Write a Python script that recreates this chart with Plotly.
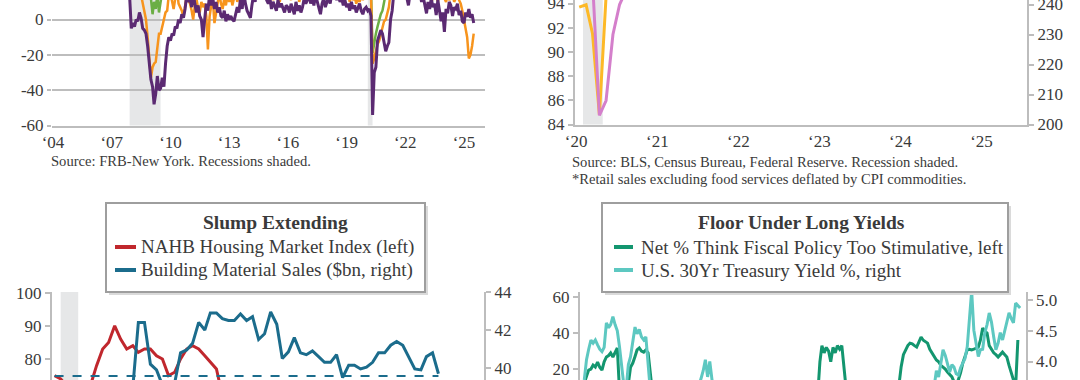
import pandas as pd
import plotly.graph_objects as go

W, H = 1080, 380
FONT = "Liberation Serif"
TXT = "#3a3a3a"
GRAY = "#BDBDBD"
SHADE = "#E6E7E8"

# ---------------- Panel 1 (top-left): monthly, Jan 2004 - Jul 2025 ----------------
tl_start = "2004-01-01"
purple = [
    25, 30, 28, 22, 27, 20, 24, 18, 22, 25, 19, 21,
    18, 15, 20, 14, 13, 17, 22, 18, 16, 20, 22, 19,
    21, 23, 19, 24, 18, 16, 14, 17, 15, 18, 21, 17,
    16, 19, 15, 18, 20, 22, 17, 19, 16, 18, 14, 13,
    -5, -2, -4, 0, -1, 4, 1, -5, -6, -8, -15, -27,
    -34, -38, -48, -42, -32, -40, -39, -33, -38, -25, -15, -10,
    -12, -8, -9, -4, -5, 0, -2, 3, 1, 6, 14, 10,
    12, 7, 15, 9, 4, 8, 2, 0, -10, 0, 9, 5,
    14, 8, 12, 6, 10, 4, 7, 2, 1, 5, -1, 3,
    0, 2, 0, -1, 3, 7, 4, 12, 6, 15, 9, 5,
    3, 1, 8, 14, 10, 18, 12, 15, 20, 13, 17, 11,
    9, 12, 6, 10, 8, 5, 11, 7, 9, 6, 4, 8,
    7, 4, 9, 6, 3, 10, 5, 8, 4, 7, 12, 9,
    11, 15, 9, 13, 8, 14, 10, 6, 3, 9, 12, 7,
    10, 13, 9, 15, 12, 16, 11, 14, 10, 12, 8, 11,
    7, 9, 5, 10, 6, 8, 4, 7, 9, 5, 3, 6,
    7, 5, 6, 2, -54, -30, -27, -12, -9, -6, -8, -12,
    -18, -15, -13, 0, 5, 15, 22, 28, 25, 30, 27, 24,
    20, 12, 8, 15, 18, 14, 20, 16, 12, 15, 10, 13,
    8, 3.5, 10, 6, 12, 7, 9, 2.5, 11, 5, -1, 4,
    -7, 6, 3.5, 10, 8, 2, 7, 6, 9, 2.5, 5, -1,
    -2, 4, 1.5, 6, 1, 3, -2,
]
orange = [
    28, 32, 25, 30, 27, 33, 24, 29, 26, 31, 28, 25,
    22, 26, 20, 24, 19, 23, 27, 21, 25, 28, 24, 22,
    26, 29, 24, 27, 22, 25, 20, 23, 21, 25, 27, 23,
    21, 24, 19, 23, 26, 28, 22, 25, 20, 23, 18, 17,
    18, 14, 16, 12, 15, 13, 14, 9, 5, 0, -10, -23,
    -33, -27, -25, -24, -15, -8, -8, -4, -1, 4, 5, 14,
    15, 10, 6, 12, 18, 9, 7, 5, 1.5, 8, 14, 11,
    9, 5, 0, 8, 12, 6, 4, 10, 7, 9, 2, -17,
    1.5, 8, 12, -2, 5, 10, 15, 9, 6, 12, 8, 14,
    10, 14, 8, 12, 16, 10, 13, 18, 12, 15, 20, 14,
    15, 18, 12, 16, 20, 14, 17, 22, 16, 19, 13, 15,
    14, 12, 17, 11, 15, 13, 18, 10, 14, 16, 12, 15,
    13, 15, 11, 17, 14, 12, 16, 10, 14, 13, 17, 15,
    18, 21, 16, 19, 15, 20, 17, 14, 19, 16, 18, 20,
    17, 22, 18, 20, 16, 21, 18, 15, 19, 17, 14, 16,
    12, 14, 10, 15, 11, 13, 9, 12, 10, 14, 11, 13,
    14, 12, 15, 14, -25, -22, -17, -14, -12, -8, -4, -1,
    0, 4, 7, 15, 20, 25, 22, 28, 24, 26, 30, 27,
    25, 22, 18, 24, 20, 17, 21, 15, 18, 14, 16, 12,
    15, 13, 17, 12, 14, 11, 16, 13, 10, 15, 12, 14,
    12, 10, 14, 11, 13, 15, 10, 12, 14, 11, 9, 5,
    0, -6, -10, -22, -20, -15, -8,
]
green = [
    30, 27, 33, 29, 31, 26, 28, 32, 27, 30, 29, 26,
    25, 28, 24, 27, 23, 26, 29, 25, 27, 30, 26, 24,
    27, 30, 25, 28, 24, 26, 22, 25, 23, 26, 28, 24,
    23, 26, 22, 25, 27, 29, 24, 26, 22, 24, 20, 19,
    22, 18, 20, 16, 19, 17, 18, 15, 16, 14, 13, 12,
    12, 3, 10, 6, 14, 4, 12, 16, 18, 20, 19, 22,
    24, 21, 25, 22, 26, 23, 20, 22, 24, 21, 25, 23,
    22, 25, 21, 24, 20, 23, 19, 22, 18, 21, 24, 22,
    20, 23, 19, 22, 25, 21, 24, 20, 22, 19, 23, 21,
    22, 19, 23, 20, 24, 21, 25, 22, 26, 23, 20, 24,
    25, 22, 26, 23, 27, 24, 21, 25, 22, 26, 23, 24,
    22, 20, 24, 21, 23, 19, 22, 20, 24, 21, 18, 22,
    20, 23, 19, 22, 18, 21, 24, 20, 23, 19, 22, 25,
    26, 28, 24, 27, 23, 26, 29, 25, 28, 24, 27, 29,
    27, 30, 26, 28, 25, 29, 26, 24, 27, 25, 22, 24,
    21, 23, 19, 22, 20, 24, 21, 23, 19, 22, 20, 21,
    20, 18, 22, 16, -19, -13, -8, -4, 0, 3, 5, 12,
    16, 20, 24, 27, 30, 28, 26, 29, 25, 27, 24, 22,
    24, 21, 25, 22, 26, 23, 20, 24, 21, 23, 19, 22,
    21, 24, 20, 23, 19, 22, 25, 21, 24, 20, 22, 19,
    20, 23, 19, 22, 18, 21, 24, 20, 22, 19, 21, 18,
    19, 17, 20, 18, 21, 19, 17,
]
tl_ticks = ["2004", "2007", "2010", "2013", "2016", "2019", "2022", "2025"]
tl_ticklabels = ["\u201804", "\u201807", "\u201810", "\u201813", "\u201816", "\u201819", "\u201822", "\u201825"]
tl_recessions = [("2007-12-01", "2009-06-30"), ("2020-02-01", "2020-04-30")]

# ---------------- Panel 2 (top-right): monthly from Jan 2020 ----------------
yellow = [
    93.7, 93.9, 91.5, 84.8, 94.6, 97.5, 98.6, 99.2, 99.8, 100.1, 99.7, 99.4,
    101.8, 100.2, 104.5, 104.0, 103.2, 103.5, 102.6, 102.9, 103.1, 103.6, 103.0, 102.4,
    102.8, 102.2, 102.5, 102.0, 101.6, 101.2, 101.5, 101.4, 101.0, 101.3, 100.9, 100.5,
    102.0, 101.6, 101.3, 101.8, 101.5, 101.7, 102.1, 101.9, 101.6, 101.8, 101.3, 101.0,
    100.7, 101.2, 101.8, 101.5, 101.9, 102.3, 102.0, 102.4, 102.6, 103.0, 103.4, 103.1,
    103.6, 102.9, 103.5, 103.3, 103.1, 103.6, 103.4,
]
pink = [
    250, 252, 248, 203, 208, 230, 240, 245, 247, 249, 248, 247,
    256, 252, 263, 262, 260, 261, 258, 259, 260, 262, 261, 259,
    260, 258, 259, 257, 256, 255, 256, 256, 254, 255, 254, 253,
    256, 255, 254, 255, 254, 255, 256, 255, 254, 255, 254, 253,
    252, 254, 255, 254, 255, 256, 255, 256, 257, 258, 259, 258,
    260, 257, 259, 258, 257, 259, 258,
]
tr_ticks = ["2020", "2021", "2022", "2023", "2024", "2025"]
tr_ticklabels = ["\u201820", "\u201821", "\u201822", "\u201823", "\u201824", "\u201825"]
tr_recessions = [("2020-02-01", "2020-04-30")]

# ---------------- Panel 3 (bottom-left): Slump Extending, monthly from Jan 2020 ----------------
bl_start = "2020-01-01"
nahb = [
    75, 74, 72, 30, 37, 58, 72, 78, 83, 85, 90, 86,
    83, 84, 82, 83, 83, 81, 80, 75, 76, 80, 83, 84,
    83, 81, 79, 77, 69, 67, 55, 49, 46, 38, 33, 31,
    35, 42, 44, 45, 50, 55, 56, 50, 45, 40, 34, 37,
    44, 48, 51, 51, 45, 43, 41, 39, 41, 43, 46, 46,
    47, 42, 39, 40, 34,
]
building = [
    36.5, 36.8, 36.0, 34.5, 37.5, 38.8, 38.5, 38.3, 38.5, 38.9, 38.7, 39.0,
    38.9, 39.0, 42.4, 42.4, 40.2, 39.9, 39.1, 38.8, 39.2, 40.8, 40.95, 41.3,
    42.4, 42.0, 42.9, 42.9, 42.6, 42.5, 42.5, 42.85, 42.5, 42.7, 41.5, 41.8,
    42.95, 42.3, 40.5, 40.85, 41.6, 40.8, 40.7, 40.9, 40.6, 40.3, 40.3, 40.7,
    39.5, 40.15, 40.15, 39.95, 40.05, 40.3, 40.8, 40.8, 41.2, 41.4, 41.2, 40.6,
    39.95, 39.9, 40.6, 40.8, 39.7,
]
building_ref = 39.58
bl_recessions = [("2020-02-01", "2020-04-30")]

# ---------------- Panel 4 (bottom-right): Floor Under Long Yields, monthly from Jan 2009 ----------------
br_start = "2009-01-01"
fiscal = [
    5, 8, 12, 16, 19.4, 20, 22.2, 21.1, 23.9, 21, 19.4, 24,
    26.7, 27.5, 28.9, 26.7, 29, 31.7, 8, 5, 2, 6, 12, 21,
    23.3, 27, 30.6, 31.7, 30, 29.4, 30.6, 29, 6, 0, -5, -8,
    -10, -6, -12, -9, -14, -11, -8, -13, -10, -7, -12, -9,
    -5, -8, -3, -6, -10, -4, -7, -2, -5, -9, -6, -3,
    -1, -4, 2, -2, 1, -3, 3, 0, -4, 2, -1, 3,
    5, 2, 6, 1, 4, 7, 3, 5, 0, 4, 8, 2,
    6, 3, 7, 4, 9, 5, 2, 6, 3, 8, 10, 4,
    7, 10, 6, 9, 11, 8, 5, 9, 7, 10, 12, 6,
    5, 24, 33, 29, 32, 30, 24, 32, 29, 33, 31, 33,
    10, 2, -3, 1, -5, -2, -8, -4, -10, -6, -9, -12,
    -20, -25, -35, -40, -38, -30, -28, -25, -22, -18, -15, -10,
    5, 12, 21.3, 28, 30.6, 33, 34.4, 34, 33, 32.2, 35, 37.8,
    36, 35, 34.4, 31, 28.9, 27, 25, 24, 22, 21.1, 20, 18.3,
    17, 15.6, 13, 12, 14, 18, 23.3, 27, 30.6, 31, 30.6, 31,
    31.5, 32.2, 36, 42.8, 41, 40, 33, 30.6, 29, 28, 26.7, 28,
    29.4, 28, 26.7, 22, 18, 12, 10, 36.1,
]
yield30 = [
    3.0, 3.5, 3.7, 4.03, 4.2, 4.35, 4.3, 4.35, 4.27, 4.2, 4.16, 4.23,
    4.63, 4.55, 4.6, 4.73, 4.6, 4.5, 4.24, 3.9, 3.6, 3.55, 3.95, 4.08,
    4.3, 4.56, 4.45, 4.52, 4.4, 4.35, 4.4, 3.9, 3.2, 3.1, 3.15, 2.95,
    3.1, 3.1, 3.35, 3.1, 2.85, 2.7, 2.6, 2.7, 2.85, 2.9, 2.8, 2.95,
    3.15, 3.2, 3.2, 2.95, 3.3, 3.5, 3.6, 3.72, 3.85, 4.03, 3.75, 4.0,
    3.7, 3.6, 3.55, 3.45, 3.35, 3.4, 3.3, 3.1, 3.2, 3.05, 3.0, 2.75,
    2.3, 2.6, 2.55, 2.75, 3.1, 3.1, 2.9, 2.95, 2.85, 2.9, 3.0, 3.0,
    2.75, 2.6, 2.7, 2.7, 2.65, 2.3, 2.2, 2.25, 2.3, 2.6, 3.0, 3.05,
    3.05, 3.0, 3.0, 2.95, 2.85, 2.85, 2.9, 2.75, 2.85, 2.9, 2.85, 2.75,
    2.95, 3.15, 3.0, 3.1, 3.05, 3.0, 3.0, 3.0, 3.2, 3.4, 3.3, 3.0,
    3.0, 3.05, 2.8, 2.95, 2.6, 2.5, 2.55, 1.95, 2.1, 2.2, 2.3, 2.4,
    2.0, 1.7, 1.35, 1.25, 1.4, 1.4, 1.2, 1.5, 1.45, 1.65, 1.6, 1.65,
    1.9, 2.15, 2.4, 2.3, 2.3, 2.05, 1.9, 1.95, 2.1, 1.95, 1.8, 1.9,
    2.1, 2.2, 2.45, 3.0, 3.1, 3.6, 3.85, 3.75, 4.0, 4.19, 4.1, 3.98,
    3.83, 3.95, 3.91, 3.8, 3.78, 3.9, 3.98, 4.05, 4.24, 4.7, 5.15, 4.51,
    4.3, 4.08, 4.19, 4.2, 4.47, 4.6, 4.79, 4.64, 4.4, 4.19, 4.3, 4.47,
    4.35, 4.5, 4.68, 4.79, 4.7, 4.63, 4.95, 4.9, 4.87,
]

# ---------------- build ----------------
tl_dates = pd.date_range(tl_start, periods=len(purple), freq="MS")
tr_dates = pd.date_range("2020-01-01", periods=len(yellow), freq="MS") + pd.Timedelta(days=14)
bl_dates = pd.date_range(bl_start, periods=len(nahb), freq="MS")
br_dates_y = pd.date_range(br_start, periods=len(yield30), freq="MS")
br_dates_f = pd.date_range(br_start, periods=len(fiscal), freq="MS")

C_PURPLE, C_ORANGE, C_GREEN = "#5B2A72", "#F7941D", "#6BAE45"
C_YELLOW, C_PINK = "#FDB927", "#D47FCB"
C_RED, C_BLUE = "#C0272D", "#1B6C8C"
C_DKGREEN, C_TEAL = "#13966F", "#5DC8C1"

fig = go.Figure()


def line(x, y, xa, ya, color, width=3, dash="solid"):
    fig.add_trace(go.Scatter(x=x, y=y, xaxis=xa, yaxis=ya, mode="lines",
                             line=dict(color=color, width=width, dash=dash),
                             showlegend=False, hoverinfo="skip"))


line(tl_dates, green, "x", "y", C_GREEN, 2.5)
line(tl_dates, orange, "x", "y", C_ORANGE, 2.5)
line(tl_dates, purple, "x", "y", C_PURPLE, 3)

line(tr_dates, yellow, "x2", "y2", C_YELLOW, 3)
line(tr_dates, pink, "x2", "y3", C_PINK, 3)

line([bl_dates[0], bl_dates[len(building) - 1]], [building_ref, building_ref], "x3", "y5", C_BLUE, 2, "dash")
line(bl_dates, nahb, "x3", "y4", C_RED, 3)
line(bl_dates, building, "x3", "y5", C_BLUE, 3)

line(br_dates_y, yield30, "x4", "y7", C_TEAL, 3)
line(br_dates_f, fiscal, "x4", "y6", C_DKGREEN, 3)

tickfont = dict(family=FONT, size=17, color=TXT)
common_y = dict(showgrid=False, zeroline=False, ticks="outside", ticklen=5, tickwidth=2,
                tickcolor=GRAY, tickfont=tickfont, showline=True, linecolor=GRAY, linewidth=2,
                automargin=False, ticklabeloverflow="allow")

fig.update_layout(
    width=W, height=H, margin=dict(l=0, r=0, t=0, b=0, autoexpand=False),
    paper_bgcolor="white", plot_bgcolor="rgba(0,0,0,0)", showlegend=False,
    font=dict(family=FONT, color=TXT),
    xaxis=dict(domain=[52 / W, 485 / W], anchor="y", type="date",
               range=["2003-12-13", "2026-01-28"],
               tickvals=[pd.Timestamp(t + "-01-01") for t in tl_ticks], ticktext=tl_ticklabels,
               showline=True, linecolor=GRAY, linewidth=2, ticks="", showgrid=False,
               zeroline=False, automargin=False, tickfont=dict(family=FONT, size=17, color=TXT)),
    yaxis=dict(domain=[1 - 125.5 / H, 1], anchor="x", range=[-60, 11.06],
               tickvals=[-60, -40, -20, 0], ticktext=["-60", "-40", "-20", "0"],
               showgrid=True, gridcolor=GRAY, gridwidth=2, zeroline=False,
               ticks="outside", ticklen=4, tickwidth=2, tickcolor=GRAY,
               showline=False, automargin=False, tickfont=tickfont),
    xaxis2=dict(domain=[575 / W, 1027 / W], anchor="y2", type="date",
                range=["2019-12-27", "2025-07-25"],
                tickvals=[pd.Timestamp(t + "-01-01") for t in tr_ticks], ticktext=tr_ticklabels,
                showline=True, linecolor=GRAY, linewidth=2, ticks="", showgrid=False,
                zeroline=False, automargin=False, tickfont=dict(family=FONT, size=17, color=TXT)),
    yaxis2=dict(domain=[1 - 124.5 / H, 1], anchor="x2", range=[84, 94.29],
                tickvals=[84, 86, 88, 90, 92, 94], **common_y),
    yaxis3=dict(overlaying="y2", side="right", anchor="x2", range=[200, 241.5],
                tickvals=[200, 210, 220, 230, 240], **common_y),
    xaxis3=dict(domain=[52 / W, 484 / W], anchor="y4", type="date",
                range=["2019-12-19", "2025-12-18"], visible=False, automargin=False),
    yaxis4=dict(domain=[0, 1 - 292 / H], anchor="x3", range=[73.67, 100.2],
                tickvals=[80, 90, 100], **common_y),
    yaxis5=dict(overlaying="y4", side="right", anchor="x3", range=[39.37, 44.0],
                tickvals=[40, 42, 44], **common_y),
    xaxis4=dict(domain=[580 / W, 1025.6 / W], anchor="y6", type="date",
                range=["2009-01-01", "2025-11-16"], visible=False, automargin=False),
    yaxis6=dict(domain=[0, 1 - 292 / H], anchor="x4", range=[13.9, 62.8],
                tickvals=[20, 40, 60], **common_y),
    yaxis7=dict(overlaying="y6", side="right", anchor="x4", range=[3.70, 5.13],
                tickvals=[4.0, 4.5, 5.0], ticktext=["4.0", "4.5", "5.0"], **common_y),
)

shapes = []
for a, b in tl_recessions:
    shapes.append(dict(type="rect", xref="x", yref="y domain", x0=a, x1=b, y0=0, y1=1,
                       fillcolor=SHADE, line=dict(width=0), layer="below"))
for a, b in tr_recessions:
    shapes.append(dict(type="rect", xref="x2", yref="y2 domain", x0=a, x1=b, y0=0, y1=1,
                       fillcolor=SHADE, line=dict(width=0), layer="below"))
for a, b in bl_recessions:
    shapes.append(dict(type="rect", xref="x3", yref="y4 domain", x0=a, x1=b, y0=0, y1=1,
                       fillcolor=SHADE, line=dict(width=0), layer="below"))


def px(x, y):
    return x / W, 1 - y / H


annotations = []


def text(x, y, s, size=14, anchor="left", bold=False, yanchor="middle"):
    xx, yy = px(x, y)
    annotations.append(dict(x=xx, y=yy, xref="paper", yref="paper", text=("<b>%s</b>" % s) if bold else s,
                            showarrow=False, xanchor=anchor, yanchor=yanchor,
                            font=dict(family=FONT, size=size, color=TXT)))


# source notes
text(49, 161, "Source: FRB-New York. Recessions shaded.", 14.6)
text(570, 162, "Source: BLS, Census Bureau, Federal Reserve. Recession shaded.", 14.6)
text(570, 179, "*Retail sales excluding food services deflated by CPI commodities.", 14.6)


def legend_box(x0, y0, x1, y1, title, entries, tx, sym_x0, sym_x1, text_x):
    a0, b1 = px(x0 + 3, y0 + 3)
    a1, b0 = px(x1 + 3, y1 + 3)
    shapes.append(dict(type="rect", xref="paper", yref="paper", x0=a0, x1=a1, y0=b0, y1=b1,
                       line=dict(width=0), fillcolor="#DADADA"))
    a0, b1 = px(x0, y0)
    a1, b0 = px(x1, y1)
    shapes.append(dict(type="rect", xref="paper", yref="paper", x0=a0, x1=a1, y0=b0, y1=b1,
                       line=dict(color="#9E9E9E", width=2), fillcolor="white"))
    text(tx, 222, title, 19.5, anchor="center", bold=True)
    for (label, color), yy in zip(entries, [247, 270]):
        s0, t = px(sym_x0, yy)
        s1, _ = px(sym_x1, yy)
        shapes.append(dict(type="line", xref="paper", yref="paper", x0=s0, x1=s1, y0=t, y1=t,
                           line=dict(color=color, width=4)))
        text(text_x, yy, label, 19)


legend_box(106, 203, 425, 292, "Slump Extending",
           [("NAHB Housing Market Index (left)", C_RED),
            ("Building Material Sales ($bn, right)", C_BLUE)],
           275, 115, 136, 139)
legend_box(602, 203, 1008, 292, "Floor Under Long Yields",
           [("Net % Think Fiscal Policy Too Stimulative, left", C_DKGREEN),
            ("U.S. 30Yr Treasury Yield %, right", C_TEAL)],
           801, 614, 633, 639)

fig.update_layout(shapes=shapes, annotations=annotations)
fig.write_html("out.html", config={"displayModeBar": False, "staticPlot": True},
               post_script="document.body.style.margin='0';document.body.style.padding='0';"
                           "document.body.style.overflow='hidden';")
